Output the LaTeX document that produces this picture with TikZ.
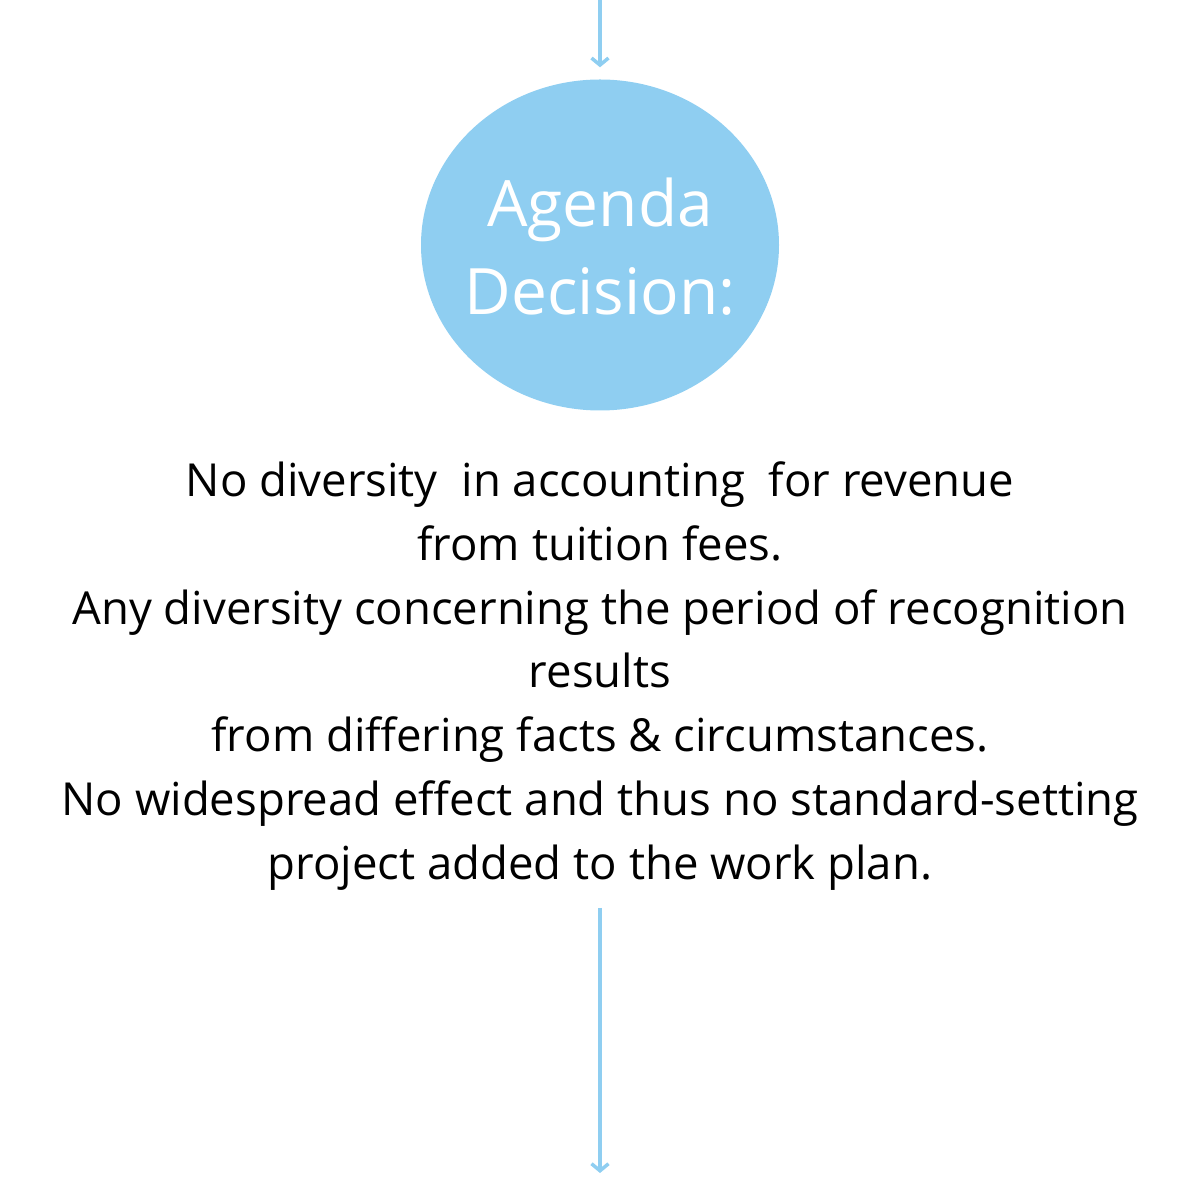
\documentclass[tikz,border=0pt]{standalone}
\usepackage{fontspec}
\setmainfont{Open Sans}
\usepackage{tikz}
\usetikzlibrary{shapes.geometric,arrows.meta}
\definecolor{skyblue}{HTML}{8FCEF1}

\tikzset{
  flow/.style={draw=skyblue, line width=3.5pt, -{Straight Barb[length=7pt,width=17pt]}},
  bubble/.style={ellipse, fill=skyblue, inner sep=0pt, minimum width=358pt, minimum height=331pt},
  caption/.style={text=white, align=center, font=\fontsize{64}{88}\selectfont},
  notes/.style={align=center, text=black, font=\fontsize{45.5}{63.7}\selectfont}
}

\begin{document}
\begin{tikzpicture}[x=1pt,y=1pt]
    \useasboundingbox (0,0) rectangle (1200,1200);
    % decision bubble
    \node[bubble] (agenda) at (600,955) {};
    \node[caption] (title) at ([yshift=-2pt]agenda.center) {Agenda\\Decision:};
    \coordinate (top) at (600,1200);
    \draw[flow, shorten >=12pt] (top) -- (agenda.north);
    % outcome text
    \node[notes] (outcome) at (600,524) {No diversity\ \ in accounting\ \ for revenue\\
        from tuition fees.\\
        Any diversity concerning the period of recognition\\
        results\\
        from differing facts \& circumstances.\\
        No widespread effect and thus no standard-setting\\
        project added to the work plan.};
    \coordinate (gap) at (600,292);
    \coordinate (bottom) at (600,27);
    \draw[flow] (gap) -- (bottom);
\end{tikzpicture}
\end{document}
